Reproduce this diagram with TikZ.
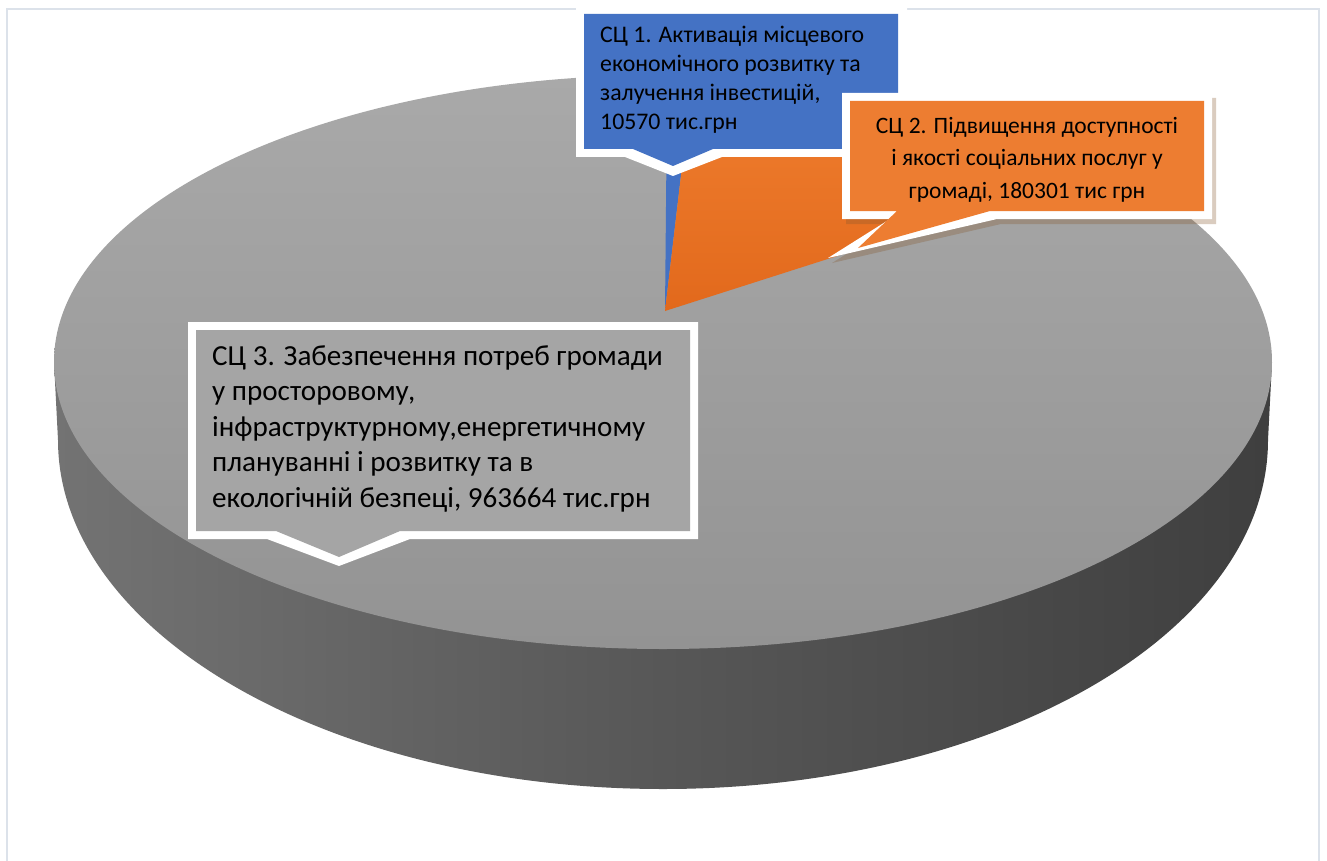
\documentclass[tikz,border=0pt]{standalone}
\usepackage{fontspec}
\setmainfont{Carlito}
\usetikzlibrary{calc}
\definecolor{frameC}{HTML}{DCE2EA}
\definecolor{blueC}{HTML}{4472C4}
\definecolor{orangeC}{HTML}{ED7D31}
\definecolor{orTop}{HTML}{F07F30}
\definecolor{orBot}{HTML}{E2691C}
\definecolor{grayC}{HTML}{A5A5A5}
\definecolor{topA}{HTML}{A9A9A9}
\definecolor{topB}{HTML}{939393}
\definecolor{sideA}{HTML}{8E8E8E}
\definecolor{sideB}{HTML}{737373}
\definecolor{sideC}{HTML}{575757}
\definecolor{sideD}{HTML}{383838}
\definecolor{sideE}{HTML}{3E3E3E}
\pgfdeclarehorizontalshading{sideshade}{100bp}{color(0bp)=(sideA); color(25bp)=(sideB); color(50bp)=(sideC); color(82bp)=(sideD); color(100bp)=(sideE)}
\tikzset{
  txtone/.style={anchor=base west, inner sep=0pt, text=black, font=\fontsize{23.8}{28}\selectfont},
  txttwo/.style={anchor=base, inner sep=0pt, text=black, font=\fontsize{23.5}{28}\selectfont},
  txtthree/.style={anchor=base west, inner sep=0pt, text=black, font=\fontsize{29.1}{34}\selectfont},
  calloutrim/.style={fill=white},
}
\begin{document}
\begin{tikzpicture}[x=1pt,y=-1pt]
\useasboundingbox (0,0) rectangle (1327,861);
\fill[white] (0,0) rectangle (1327,861);
% frame
\draw[frameC, line width=1.5pt] (7,875) -- (7,9) -- (1319,9) -- (1319,875);
% pie side
\coordinate (O) at (663,362);
\coordinate (A) at (665,311);
\shade[shading=sideshade] (54,362) -- (58,440) arc[start angle=180,end angle=0,x radius=605,y radius=349] -- (1272,362) -- cycle;
% pie top
\shade[top color=topA,bottom color=topB] (O) ellipse [x radius=609,y radius=287];
% slices
\fill[blueC] (A) -- ($(O)+(-89.6:609 and 287)$) arc[start angle=-89.6,end angle=-87.2,x radius=609,y radius=287] -- cycle;
\shade[top color=orTop,bottom color=orBot] (A) -- ($(O)+(-87.2:609 and 287)$) arc[start angle=-87.2,end angle=-42.5,x radius=609,y radius=287] -- cycle;
% callout 1
\fill[calloutrim] (576,5) -- (907,5) -- (907,157) -- (722,157) -- (673,176) -- (625,157) -- (576,157) -- cycle;
\fill[blueC] (584,14) -- (898,14) -- (898,149) -- (713,149) -- (673,166) -- (633,149) -- (584,149) -- cycle;
% callout 2
\begin{scope}[shift={(4,5)}]
\fill[brown!70!black, opacity=0.3] (842,93) -- (1212,93) -- (1212,219) -- (997,219) -- (828,258) -- (890,219) -- (842,219) -- cycle;
\end{scope}
\fill[calloutrim] (842,93) -- (1212,93) -- (1212,219) -- (997,219) -- (828,258) -- (890,219) -- (842,219) -- cycle;
\fill[orangeC] (850,101) -- (1204,101) -- (1204,211) -- (990,211) -- (858,248) -- (897,211) -- (850,211) -- cycle;
% callout 3
\fill[calloutrim] (188,322) -- (698,322) -- (698,539) -- (410,539) -- (339,566) -- (267,539) -- (188,539) -- cycle;
\fill[grayC] (196,330) -- (690,330) -- (690,531) -- (400,531) -- (339,557) -- (276,531) -- (196,531) -- cycle;
% texts
\node[txtone] (la) at (600,43) {СЦ 1. Активація місцевого};
\node[txtone] (lb) at (600,72) {економічного розвитку та};
\node[txtone] (lc) at (600,101) {залучення інвестицій,};
\node[txtone] (ld) at (600,130) {10570 тис.грн};
\node[txttwo] (ma) at (1027,134) {СЦ 2. Підвищення доступності};
\node[txttwo] (mb) at (1027,166) {і якості соціальних послуг у};
\node[txttwo] (mc) at (1027,198) {громаді, 180301 тис грн};
\node[txtthree] (na) at (212,365) {СЦ 3. Забезпечення потреб громади};
\node[txtthree] (nb) at (212,400.5) {у просторовому,};
\node[txtthree] (nc) at (212,436) {інфраструктурному,енергетичному};
\node[txtthree] (nd) at (212,471.5) {плануванні і розвитку та в};
\node[txtthree] (ne) at (212,507) {екологічній безпеці, 963664 тис.грн};
\end{tikzpicture}
\end{document}
